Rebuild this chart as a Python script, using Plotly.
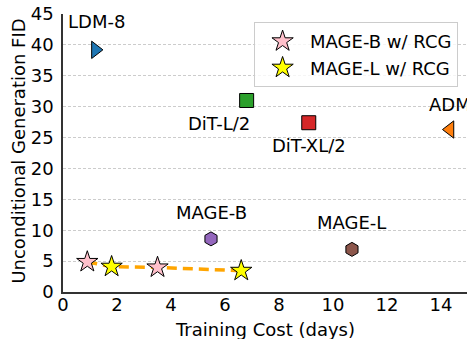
import plotly.graph_objects as go

# Baseline models
base_names = ["LDM-8", "DiT-L/2", "DiT-XL/2", "ADM", "MAGE-B", "MAGE-L"]
base_cost = [1.2, 6.8, 9.1, 14.33, 5.48, 10.7]
base_fid = [39.2, 31.0, 27.4, 26.3, 8.6, 6.9]
base_symbols = ["triangle-right", "square", "square", "triangle-left", "hexagon", "hexagon"]
base_colors = ["#1f77b4", "#2ca02c", "#d62728", "#ff7f0e", "#9467bd", "#8c564b"]
base_sizes = [15, 14, 14, 15, 14, 14]
# label offsets in pixels (x, y)
label_shift = [(1, 28), (-28, -23), (0, -23), (0, 25), (1, 26), (0, 27)]

# RCG results
magb_cost = [0.9, 3.5]
magb_fid = [4.87, 3.98]
magl_cost = [1.8, 6.6]
magl_fid = [4.1, 3.44]

x_ticks = [0, 2, 4, 6, 8, 10, 12, 14]
y_ticks = [0, 5, 10, 15, 20, 25, 30, 35, 40, 45]

FONT = "DejaVu Sans"
FS = 18

fig = go.Figure()

# dashed trend line through RCG points (sorted by cost)
pts = sorted(zip(magb_cost + magl_cost, magb_fid + magl_fid))
fig.add_trace(go.Scatter(
    x=[p[0] for p in pts], y=[p[1] for p in pts], mode="lines",
    line=dict(color="#FFA500", width=3.5, dash="10px,6px"),
    showlegend=False, hoverinfo="skip"))

for name, cx, fy, sym, col, sz in zip(base_names, base_cost, base_fid, base_symbols, base_colors, base_sizes):
    fig.add_trace(go.Scatter(
        x=[cx], y=[fy], mode="markers", showlegend=False,
        marker=dict(symbol=sym, color=col, size=sz, line=dict(color="black", width=1)),
        name=name))

fig.add_trace(go.Scatter(
    x=magb_cost, y=magb_fid, mode="markers", name="MAGE-B w/ RCG",
    marker=dict(symbol="star", color="pink", size=16, line=dict(color="black", width=1))))
fig.add_trace(go.Scatter(
    x=magl_cost, y=magl_fid, mode="markers", name="MAGE-L w/ RCG",
    marker=dict(symbol="star", color="yellow", size=16, line=dict(color="black", width=1))))

for name, cx, fy, (dx, dy) in zip(base_names, base_cost, base_fid, label_shift):
    fig.add_annotation(x=cx, y=fy, text=name, showarrow=False,
                       xshift=dx, yshift=dy,
                       font=dict(family=FONT, size=FS, color="black"))

# axis titles
fig.add_annotation(xref="paper", yref="paper", x=0.5, y=0, yshift=-37,
                   xanchor="center", yanchor="middle", showarrow=False,
                   text="Training Cost (days)", font=dict(family=FONT, size=FS, color="black"))
fig.add_annotation(xref="paper", yref="paper", x=0, y=0.505, xshift=-44,
                   xanchor="center", yanchor="middle", showarrow=False, textangle=-90,
                   text="Unconditional Generation FID", font=dict(family=FONT, size=FS, color="black"))

fig.update_layout(
    width=467, height=339,
    margin=dict(l=63, r=0, t=14, b=47),
    plot_bgcolor="white", paper_bgcolor="white",
    font=dict(family=FONT, size=FS, color="black"),
    legend=dict(x=0.473, y=0.971, xanchor="left", yanchor="top",
                bgcolor="rgba(255,255,255,0.8)", bordercolor="#cccccc", borderwidth=1,
                font=dict(family=FONT, size=FS, color="black"),
                itemwidth=45, tracegroupgap=0),
    xaxis=dict(range=[0, 14.96], tickvals=x_ticks, automargin=False,
               showgrid=False, zeroline=False,
               showline=True, linecolor="#333333", linewidth=1.5,
               ticks="", ticklabelstandoff=-4,
               tickfont=dict(family=FONT, size=FS)),
    yaxis=dict(range=[0, 45], tickvals=y_ticks, automargin=False,
               showgrid=True, gridcolor="#cccccc", gridwidth=1, griddash="3px,2px",
               zeroline=False, ticklabeloverflow="allow",
               showline=True, linecolor="#333333", linewidth=1.5,
               ticks="outside", ticklen=4, tickcolor="rgba(0,0,0,0)",
               tickfont=dict(family=FONT, size=FS)),
)

fig.write_html("out.html",
               config={"displayModeBar": False},
               post_script="document.body.style.margin='0';document.body.style.overflow='hidden';")
